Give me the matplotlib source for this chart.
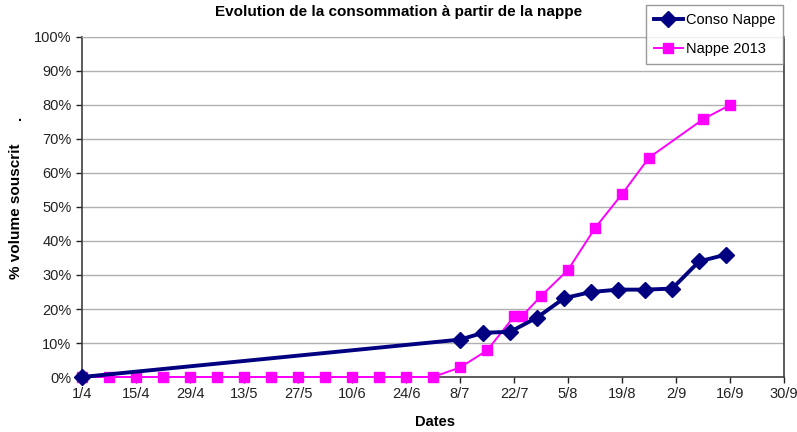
"""Evolution de la consommation à partir de la nappe."""

import matplotlib
matplotlib.use("Agg")
import matplotlib.pyplot as plt
from matplotlib.ticker import PercentFormatter

# days counted from 1 April
tick_days = [0, 14, 28, 42, 56, 70, 84, 98, 112, 126, 140, 154, 168, 182]
tick_labels = ["1/4", "15/4", "29/4", "13/5", "27/5", "10/6", "24/6",
               "8/7", "22/7", "5/8", "19/8", "2/9", "16/9", "30/9"]

conso_days = [0, 98, 104, 111, 118, 125, 132, 139, 146, 153, 160, 167]
conso_vals = [0, 11, 13, 13.3, 17.5, 23.2, 25, 25.7, 25.7, 26, 34, 36]

nappe_days = [0, 7, 14, 21, 28, 35, 42, 49, 56, 63, 70, 77, 84, 91,
              98, 105, 112, 114, 119, 126, 133, 140, 147, 161, 168]
nappe_vals = [0, 0, 0, 0, 0, 0, 0, 0, 0, 0, 0, 0, 0, 0,
              2.8, 7.8, 17.8, 17.8, 23.8, 31.5, 43.8, 53.8, 64.5, 75.8, 80]

plt.rcParams["font.family"] = ["Liberation Sans Narrow", "Liberation Sans"]

fig = plt.figure(figsize=(7.97, 4.32), dpi=100)
ax = fig.add_axes([0.1029, 0.1273, 0.8808, 0.7871])

ax.plot(conso_days, conso_vals, color="#000080", lw=2.8, marker="D",
        ms=8, label="Conso Nappe", zorder=4, clip_on=False)
ax.plot(nappe_days, nappe_vals, color="#FF00FF", lw=1.4, marker="s",
        ms=7.5, label="Nappe 2013", zorder=3, clip_on=False)

ax.set_xlim(0, 182)
ax.set_ylim(0, 100)
ax.set_xticks(tick_days)
ax.set_xticklabels(tick_labels)
ax.set_yticks(range(0, 101, 10))
ax.yaxis.set_major_formatter(PercentFormatter(decimals=0))
ax.tick_params(labelsize=10.5, colors="#222222", length=4, width=1,
               direction="out")
ax.grid(axis="y", color="#b0b0b0", lw=1)
ax.set_axisbelow(True)
for side in ["left", "bottom", "right"]:
    ax.spines[side].set_color("#404040")
    ax.spines[side].set_linewidth(1.2)
ax.spines["top"].set_color("#b0b0b0")

fig.text(0.50, 0.972, "Evolution de la consommation à partir de la nappe",
         ha="center", va="center", fontsize=11, weight="bold",
         family="Liberation Sans")
fig.text(0.546, 0.022, "Dates", ha="center", va="center",
         fontsize=10.5, weight="bold")
fig.text(0.020, 0.51, "% volume souscrit", ha="center", va="center",
         rotation=90, fontsize=11, weight="bold", family="Liberation Sans")
fig.text(0.025, 0.73, ".", ha="center", va="center", fontsize=10,
         weight="bold")

leg = fig.legend(loc="upper right", bbox_to_anchor=(0.983, 0.988),
                 fontsize=10.5, frameon=True, fancybox=False,
                 handlelength=2.0, handletextpad=0.2, borderpad=0.55,
                 labelspacing=1.0, borderaxespad=0)
leg.get_frame().set_edgecolor("#808080")
leg.get_frame().set_linewidth(1)

fig.savefig("out.png", dpi=100)
